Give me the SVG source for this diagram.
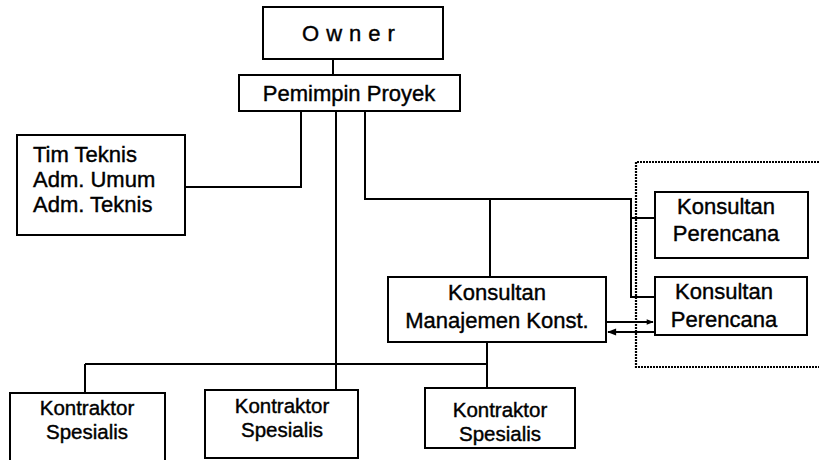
<svg xmlns="http://www.w3.org/2000/svg" width="819" height="460" viewBox="0 0 819 460">
<style>
.box{fill:#fff;stroke:#000;stroke-width:2}
.ln{fill:none;stroke:#000;stroke-width:2}
.dot{fill:none;stroke:#000;stroke-width:2.2;stroke-dasharray:2 1}
text{font-family:"Liberation Sans",Arial,sans-serif;font-size:22px;fill:#000;stroke:#000;stroke-width:0.4}
.c{text-anchor:middle}
.s{font-size:20.5px}
</style>
<defs>
<marker id="ah" viewBox="0 0 10 10" refX="9" refY="5" markerWidth="8" markerHeight="7" markerUnits="userSpaceOnUse" orient="auto">
<path d="M0,1 L10,5 L0,9 z" fill="#000"/>
</marker>
<marker id="ahb" viewBox="0 0 10 10" refX="9" refY="5" markerWidth="11" markerHeight="9" markerUnits="userSpaceOnUse" orient="auto">
<path d="M0,1 L10,5 L0,9 z" fill="#000"/>
</marker>
</defs>
<rect width="819" height="460" fill="#fff"/>
<g id="connectors">
<path class="ln" d="M333 59 V75"/>
<path class="ln" d="M185 187 H301 V111"/>
<path class="ln" d="M336 111 V390"/>
<path class="ln" d="M365 111 V199 H631 V297 H655"/>
<path class="ln" d="M490 199 V277"/>
<path class="ln" d="M631 218 H655"/>
<path class="dot" d="M819 162 H636 V367 H819"/>
<path class="ln" d="M606 322 H653" marker-end="url(#ah)"/>
<path class="ln" d="M655 332 H608" marker-end="url(#ahb)"/>
<path class="ln" d="M487 342 V388"/>
<path class="ln" d="M85 364 H487"/>
<path class="ln" d="M85 364 V393"/>
</g>
<g id="owner">
<rect class="box" x="263" y="7" width="180" height="52"/>
<text x="352" y="41" class="c" style="letter-spacing:7px">Owner</text>
</g>
<g id="pemimpin">
<rect class="box" x="239" y="75" width="221" height="36"/>
<text x="349" y="101" class="c">Pemimpin Proyek</text>
</g>
<g id="tim">
<rect class="box" x="17" y="135" width="168" height="100"/>
<text x="33" y="162">Tim Teknis</text>
<text x="33" y="187">Adm. Umum</text>
<text x="33" y="212">Adm. Teknis</text>
</g>
<g id="kp1">
<rect class="box" x="655" y="192" width="153" height="66"/>
<text x="726" y="214" class="c">Konsultan</text>
<text x="726" y="241" class="c">Perencana</text>
</g>
<g id="kp2">
<rect class="box" x="655" y="277" width="152" height="58"/>
<text x="724" y="299" class="c">Konsultan</text>
<text x="724" y="327" class="c">Perencana</text>
</g>
<g id="mk">
<rect class="box" x="388" y="277" width="218" height="65"/>
<text x="497" y="300" class="c">Konsultan</text>
<text x="497" y="328" class="c">Manajemen Konst.</text>
</g>
<g id="k1">
<rect class="box" x="10" y="393" width="155" height="75"/>
<text x="87" y="415" class="c s">Kontraktor</text>
<text x="87" y="439" class="c s">Spesialis</text>
</g>
<g id="k2">
<rect class="box" x="205" y="390" width="153" height="68"/>
<text x="282" y="413" class="c s">Kontraktor</text>
<text x="282" y="437" class="c s">Spesialis</text>
</g>
<g id="k3">
<rect class="box" x="425" y="388" width="150" height="60"/>
<text x="500" y="417" class="c s">Kontraktor</text>
<text x="500" y="441" class="c s">Spesialis</text>
</g>
</svg>
